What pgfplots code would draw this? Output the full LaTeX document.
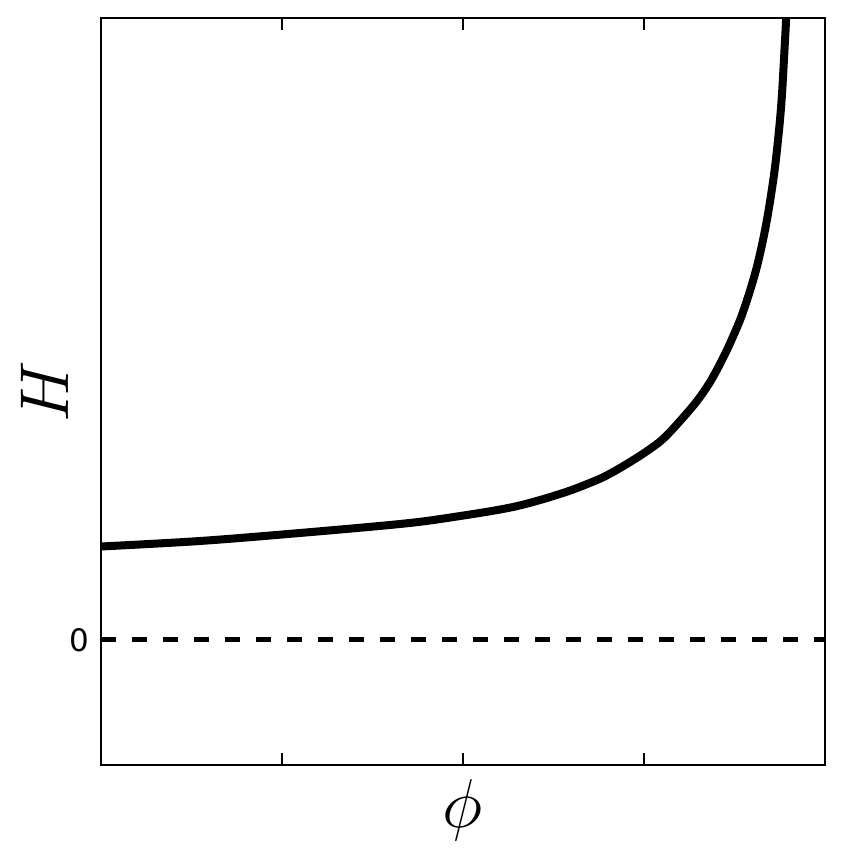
\documentclass[border=0pt]{standalone}
\usepackage{fontspec}
\usepackage{pgfplots}
\pgfplotsset{compat=1.18}
\newfontfamily\tickfont{DejaVu Sans}

\begin{document}
\begin{tikzpicture}
\begin{axis}[
    scale only axis,
    width=217.2pt, height=224.1pt,
    xmin=0, xmax=4,
    ymin=-1, ymax=4.976,
    xtick={1,2,3}, xticklabels={},
    ytick={0}, yticklabels={\tickfont 0},
    tick align=inside,
    major tick length=3.6pt,
    tick style={line width=0.5pt, black},
    axis line style={line width=0.7pt},
    ytick pos=left,
    yticklabel style={font=\fontsize{9.3}{10}\selectfont},
    xlabel={$\phi$}, ylabel={$H$},
    label style={font=\fontsize{20}{22}\selectfont},
    xlabel style={at={(axis description cs:0.5,-0.06)}, anchor=center},
    ylabel style={at={(axis description cs:-0.078,0.5)}, anchor=center},
]
% zero line
\addplot[black, line width=1.5pt, dash pattern=on 4.5pt off 4.8pt]
    coordinates {(0,0) (4,0)};
% H(phi)
\addplot[black, line width=2.4pt, smooth, tension=0.55]
    coordinates {
        (0.000,0.748) (0.547,0.792) (1.099,0.856) (1.652,0.928)
        (1.912,0.976) (2.276,1.064) (2.552,1.176) (2.740,1.280)
        (2.829,1.344) (2.923,1.424) (3.017,1.512) (3.105,1.608)
        (3.199,1.752) (3.293,1.912) (3.365,2.064) (3.431,2.240)
        (3.486,2.408) (3.547,2.624) (3.619,2.960) (3.674,3.320)
        (3.718,3.720) (3.746,4.080) (3.762,4.360) (3.776,4.720)
        (3.785,4.976) (3.790,5.300)
    };
\end{axis}
\path ([xshift=-30.3pt,yshift=-26.7pt]current axis.south west)
    rectangle ([xshift=5.7pt,yshift=5.4pt]current axis.north east);
\end{tikzpicture}
\end{document}
